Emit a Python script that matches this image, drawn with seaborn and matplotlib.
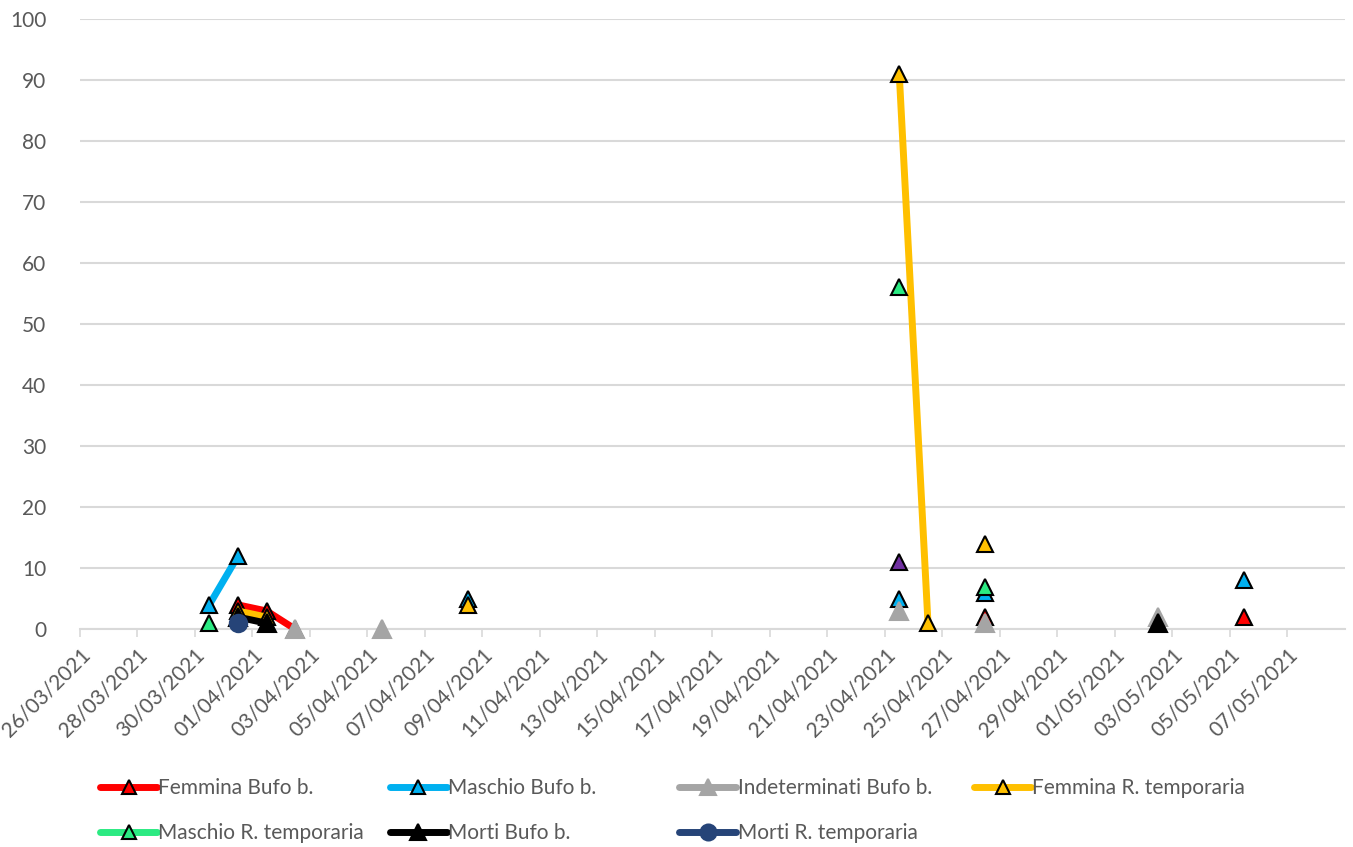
import matplotlib
matplotlib.use("Agg")
import matplotlib.pyplot as plt
import seaborn as sns
import pandas as pd
import numpy as np

# dati (giorni senza valore = nessun punto)
femmina_bufo_date = ["2021-03-31", "2021-04-01", "2021-04-02", "2021-04-26", "2021-05-05"]
femmina_bufo = [4, 3, 0, 2, 2]

maschio_bufo_date = ["2021-03-30", "2021-03-31", "2021-04-08", "2021-04-23", "2021-04-26", "2021-05-05"]
maschio_bufo = [4, 12, 5, 5, 6, 8]

indet_bufo_date = ["2021-04-02", "2021-04-05", "2021-04-23", "2021-04-26", "2021-05-02"]
indet_bufo = [0, 0, 3, 1, 2]

femmina_rt_date = ["2021-03-31", "2021-04-01", "2021-04-08", "2021-04-23", "2021-04-24", "2021-04-26"]
femmina_rt = [3, 2, 4, 91, 1, 14]

maschio_rt_date = ["2021-03-30", "2021-04-23", "2021-04-26"]
maschio_rt = [1, 56, 7]

morti_bufo_date = ["2021-03-31", "2021-04-01", "2021-05-02"]
morti_bufo = [2, 1, 1]

morti_rt_date = ["2021-03-31"]
morti_rt = [1]

altro_date = ["2021-04-23"]
altro = [11]

tick_labels_start = "2021-03-26"
tick_labels_end = "2021-05-07"

sns.set_theme(style="white")
plt.rcParams['font.family'] = ['Lato', 'DejaVu Sans']
grigio_testo = "#595959"

serie = [
    ("Femmina Bufo b.", femmina_bufo_date, femmina_bufo, "#FF0000", "^", "black"),
    ("Maschio Bufo b.", maschio_bufo_date, maschio_bufo, "#00B0F0", "^", "black"),
    ("Indeterminati Bufo b.", indet_bufo_date, indet_bufo, "#A5A5A5", "^", "#A5A5A5"),
    ("Femmina R. temporaria", femmina_rt_date, femmina_rt, "#FFC000", "^", "black"),
    ("Maschio R. temporaria", maschio_rt_date, maschio_rt, "#2BEA82", "^", "black"),
    ("Morti Bufo b.", morti_bufo_date, morti_bufo, "#000000", "^", "#000000"),
    ("Morti R. temporaria", morti_rt_date, morti_rt, "#264478", "o", "#264478"),
    ("_altro", altro_date, altro, "#7030A0", "^", "black"),
]

fig = plt.figure(figsize=(13.53, 8.47), dpi=100)
ax = fig.add_axes([0.059, 0.257, 0.935, 0.721])

handles = {}
for i, (nome, dd, vv, col, mk, edge) in enumerate(serie):
    df = pd.DataFrame({"data": pd.to_datetime(dd), "val": vv})
    # segmenti di giorni consecutivi -> linee spezzate come in Excel
    df["seg"] = (df["data"].diff().dt.days != 1).cumsum()
    ms = 11 if edge == "black" else 12.5
    sns.lineplot(data=df, x="data", y="val", units="seg", estimator=None,
                 color=col, lw=5, marker=mk, markersize=ms,
                 markeredgecolor=edge, markeredgewidth=1.5, clip_on=False,
                 solid_capstyle="butt", zorder=3 + i, ax=ax, legend=False)
    if not nome.startswith("_"):
        handles[nome] = plt.Line2D([], [], color=col, lw=5, marker=mk,
                                   markersize=ms - 1, markeredgecolor=edge,
                                   markeredgewidth=1.5, solid_capstyle="round")

# asse x: giorni centrati tra i tick (stile Excel)
mezzo = pd.Timedelta(hours=12)
start = pd.Timestamp(tick_labels_start)
end = pd.Timestamp(tick_labels_end)
ax.set_xlim(start - mezzo, end + pd.Timedelta(days=2) - mezzo)
tick_days = pd.date_range(start, end, freq="2D")
ax.set_xticks(tick_days - mezzo)
ax.set_xticklabels([d.strftime("%d/%m/%Y") for d in tick_days], rotation=45,
                   ha="right", rotation_mode="anchor", fontsize=15, color=grigio_testo)
ax.set_ylim(0, 100)
ax.set_yticks(np.arange(0, 101, 10))
ax.tick_params(axis="y", labelsize=15, colors=grigio_testo, length=0, pad=24)
ax.tick_params(axis="x", length=6, width=1.2, color="#D9D9D9", pad=5, direction="out", bottom=True)
ax.yaxis.grid(True, color="#D9D9D9", lw=1.5)
ax.xaxis.grid(False)
ax.set_xlabel("")
ax.set_ylabel("")
for s in ["top", "right", "left"]:
    ax.spines[s].set_visible(False)
ax.spines["bottom"].set_color("#D9D9D9")
ax.spines["bottom"].set_linewidth(1.5)
ax.set_axisbelow(True)

# legenda a colonne di larghezza uguale, come in Excel
colonne = [["Femmina Bufo b.", "Maschio R. temporaria"],
           ["Maschio Bufo b.", "Morti Bufo b."],
           ["Indeterminati Bufo b.", "Morti R. temporaria"],
           ["Femmina R. temporaria"]]
x_colonne = [0.074, 0.288, 0.502, 0.72]
for nomi, x0 in zip(colonne, x_colonne):
    leg = fig.legend([handles[n] for n in nomi], nomi, loc="upper left",
                     bbox_to_anchor=(x0, 0.081), frameon=False, fontsize=15,
                     handlelength=2.75, handletextpad=0.05, labelspacing=1.2,
                     borderpad=0, borderaxespad=0)
    for t in leg.get_texts():
        t.set_color(grigio_testo)

fig.savefig("out.png", dpi=100)
